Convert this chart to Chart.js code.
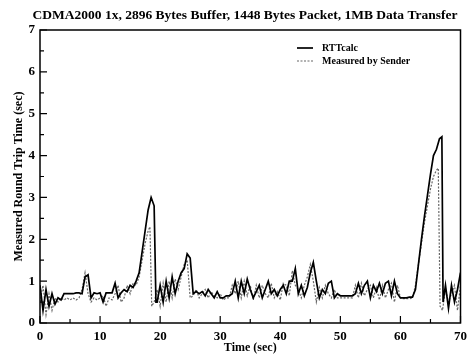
<!DOCTYPE html>
<html>
<head>
  <title>CDMA2000 RTT</title>
  <script src="https://cdn.jsdelivr.net/npm/chart.js"></script>
  <style>
    html, body { margin: 0; padding: 0; background: #fff; }
    #wrap { width: 473px; height: 355px; }
  </style>
</head>
<body>
  <div id="wrap"><canvas id="rttChart" width="473" height="355"></canvas></div>

  <script>
    // Data (time in sec, RTT in sec)
    const rttTime = [0, 0.5, 1, 1.5, 2, 2.5, 3, 3.5, 4, 4.5, 5, 5.5, 6, 6.5, 7, 7.5, 8, 8.5, 9, 9.5,
      10, 10.5, 11, 11.5, 12, 12.5, 13, 13.5, 14, 14.5, 15, 15.5, 16, 16.5, 17, 17.5, 18, 18.5, 19, 19.3,
      19.5, 20, 20.5, 21, 21.5, 22, 22.5, 23, 23.5, 24, 24.5, 25, 25.5, 26, 26.5, 27, 27.5, 28, 28.5, 29,
      29.5, 30, 30.5, 31, 31.5, 32, 32.5, 33, 33.5, 34, 34.5, 35, 35.5, 36, 36.5, 37, 37.5, 38, 38.5, 39,
      39.5, 40, 40.5, 41, 41.5, 42, 42.5, 43, 43.5, 44, 44.5, 45, 45.5, 46, 46.5, 47, 47.5, 48, 48.5, 49,
      49.5, 50, 50.5, 51, 51.5, 52, 52.5, 53, 53.5, 54, 54.5, 55, 55.5, 56, 56.5, 57, 57.5, 58, 58.5, 59,
      59.5, 60, 60.5, 61, 61.5, 62, 62.5, 63, 63.5, 64, 64.5, 65, 65.5, 66, 66.5, 66.9, 67.1, 67.5, 68, 68.5,
      69, 69.5, 70];
    const rttValue = [0.9, 0.3, 0.8, 0.4, 0.7, 0.45, 0.6, 0.55, 0.7, 0.7, 0.7, 0.7, 0.72, 0.72, 0.7, 1.1, 1.15, 0.6, 0.72, 0.7,
      0.72, 0.5, 0.72, 0.72, 0.72, 0.95, 0.6, 0.72, 0.8, 0.75, 0.9, 0.85, 1.0, 1.2, 1.7, 2.2, 2.7, 3.0, 2.8, 0.5,
      0.5, 0.9, 0.5, 1.0, 0.6, 1.1, 0.7, 1.0, 1.2, 1.3, 1.65, 1.55, 0.7, 0.75, 0.7, 0.75, 0.65, 0.8, 0.7, 0.6,
      0.75, 0.6, 0.6, 0.65, 0.65, 0.7, 1.0, 0.6, 1.0, 0.7, 1.05, 0.8, 0.6, 0.75, 0.9, 0.6, 0.8, 1.0, 0.7, 0.8,
      0.65, 0.8, 0.9, 0.7, 1.0, 1.0, 1.3, 0.7, 0.9, 0.65, 0.85, 1.2, 1.45, 1.0, 0.6, 0.8, 0.7, 0.95, 1.0, 0.6,
      0.7, 0.65, 0.65, 0.65, 0.65, 0.65, 0.7, 0.95, 0.7, 0.9, 1.0, 0.6, 0.9, 0.75, 0.95, 0.7, 0.95, 1.0, 0.65, 1.0,
      0.7, 0.6, 0.6, 0.6, 0.62, 0.62, 0.8, 1.4, 2.0, 2.55, 3.05, 3.55, 4.0, 4.15, 4.4, 4.45, 0.5, 0.9, 0.35, 0.9,
      0.5, 0.8, 1.2];

    const sndTime = [0, 0.5, 1, 1.5, 2, 2.5, 3, 3.5, 4, 4.5, 5, 5.5, 6, 6.5, 7, 7.5, 8, 8.5, 9, 9.5,
      10, 10.5, 11, 11.5, 12, 12.5, 13, 13.5, 14, 14.5, 15, 15.5, 16, 16.5, 17, 17.5, 18, 18.3, 18.6, 19,
      19.5, 20, 20.5, 21, 21.5, 22, 22.5, 23, 23.5, 24, 24.5, 25, 25.5, 26, 26.5, 27, 27.5, 28, 28.5, 29,
      29.5, 30, 30.5, 31, 31.5, 32, 32.5, 33, 33.5, 34, 34.5, 35, 35.5, 36, 36.5, 37, 37.5, 38, 38.5, 39,
      39.5, 40, 40.5, 41, 41.5, 42, 42.5, 43, 43.5, 44, 44.5, 45, 45.5, 46, 46.5, 47, 47.5, 48, 48.5, 49,
      49.5, 50, 50.5, 51, 51.5, 52, 52.5, 53, 53.5, 54, 54.5, 55, 55.5, 56, 56.5, 57, 57.5, 58, 58.5, 59,
      59.5, 60, 60.5, 61, 61.5, 62, 62.5, 63, 63.5, 64, 64.5, 65, 65.5, 66, 66.3, 66.6, 67, 67.5, 68, 68.5,
      69, 69.5, 70];
    const sndValue = [0.5, 0.9, 0.2, 0.7, 0.3, 0.6, 0.5, 0.6, 0.55, 0.6, 0.55, 0.6, 0.55, 0.6, 0.8, 1.2, 0.7, 0.5, 0.6, 0.55,
      0.6, 0.65, 0.4, 0.6, 0.55, 0.7, 0.9, 0.5, 0.6, 0.9, 0.7, 0.95, 0.9, 1.1, 1.5, 1.9, 2.2, 2.3, 0.4, 0.5,
      0.8, 0.4, 0.95, 0.5, 1.0, 0.6, 1.05, 0.8, 1.1, 1.4, 1.5, 0.6, 0.65, 0.8, 0.6, 0.7, 0.8, 0.6, 0.75, 0.65,
      0.6, 0.7, 0.55, 0.6, 0.6, 0.9, 0.7, 1.0, 0.6, 1.0, 0.65, 0.9, 0.55, 0.9, 0.6, 0.9, 0.7, 0.6, 0.95, 0.6,
      0.75, 0.55, 0.95, 0.9, 0.65, 1.25, 0.9, 0.8, 0.6, 0.9, 1.1, 1.4, 1.0, 0.5, 0.85, 0.6, 0.9, 0.7, 0.6, 0.8,
      0.6, 0.6, 0.6, 0.6, 0.6, 0.6, 0.9, 0.6, 0.95, 0.65, 0.8, 0.9, 0.6, 0.85, 0.55, 0.9, 0.6, 0.8, 0.95, 0.5,
      0.9, 0.6, 0.58, 0.58, 0.58, 0.6, 0.9, 1.4, 1.9, 2.4, 2.8, 3.2, 3.5, 3.65, 3.7, 0.4, 0.3, 0.8, 0.5, 0.7,
      0.9, 0.3, 0.9];

    const xTicks = [0, 10, 20, 30, 40, 50, 60, 70];
    const yTicks = [0, 1, 2, 3, 4, 5, 6, 7];
    const chartTitle = 'CDMA2000 1x, 2896 Bytes Buffer, 1448 Bytes Packet, 1MB Data Transfer';

    const serif = "'Liberation Serif', 'Times New Roman', serif";

    // title, frame, inward ticks and legend drawn on top of the chart
    const framePlugin = {
      id: 'frame',
      afterDraw(chart) {
        const ctx = chart.ctx;
        const a = chart.chartArea;
        const xs = chart.scales.x, ys = chart.scales.y;
        ctx.save();

        ctx.fillStyle = '#000';
        ctx.font = 'bold 13.5px ' + serif;
        ctx.textAlign = 'center';
        ctx.textBaseline = 'middle';
        ctx.fillText(chartTitle, 245, 16);

        ctx.strokeStyle = '#000';
        ctx.lineWidth = 1.5;
        ctx.strokeRect(a.left, a.top, a.right - a.left, a.bottom - a.top);
        ctx.lineWidth = 1.2;
        ctx.beginPath();
        for (let v = 0; v <= 70; v += 5) {
          const px = xs.getPixelForValue(v);
          const len = v % 10 === 0 ? 7 : 4;
          ctx.moveTo(px, a.bottom);
          ctx.lineTo(px, a.bottom - len);
        }
        for (let v = 0; v <= 7; v += 0.5) {
          const py = ys.getPixelForValue(v);
          const len = v % 1 === 0 ? 7 : 4;
          ctx.moveTo(a.left, py);
          ctx.lineTo(a.left + len, py);
        }
        ctx.stroke();

        // legend
        const lx = 297, ly = [48, 61];
        ctx.font = 'bold 10px ' + serif;
        ctx.textAlign = 'left';
        chart.data.datasets.forEach((ds, i) => {
          ctx.strokeStyle = ds.borderColor;
          ctx.lineWidth = ds.borderWidth;
          ctx.setLineDash(ds.borderDash || []);
          ctx.beginPath();
          ctx.moveTo(lx, ly[i]);
          ctx.lineTo(lx + 16, ly[i]);
          ctx.stroke();
          ctx.setLineDash([]);
          ctx.fillText(ds.label, lx + 25, ly[i]);
        });
        ctx.restore();
      }
    };

    new Chart(document.getElementById('rttChart'), {
      type: 'line',
      data: {
        datasets: [{
          label: 'RTTcalc',
          data: rttTime.map((t, i) => ({ x: t, y: rttValue[i] })),
          borderColor: '#000',
          borderWidth: 1.7,
          pointRadius: 0,
          tension: 0
        }, {
          label: 'Measured by Sender',
          data: sndTime.map((t, i) => ({ x: t, y: sndValue[i] })),
          borderColor: '#666',
          borderWidth: 1.2,
          borderDash: [2, 1.5],
          pointRadius: 0,
          tension: 0
        }]
      },
      options: {
        responsive: false,
        animation: false,
        layout: { padding: { left: 0, right: 12, top: 30, bottom: 0 } },
        plugins: {
          legend: { display: false },
          tooltip: { enabled: false },
          title: { display: false }
        },
        scales: {
          x: {
            type: 'linear',
            min: 0, max: 70,
            afterBuildTicks: s => { s.ticks = xTicks.map(v => ({ value: v })); },
            afterFit: s => { s.height = 32; },
            grid: { display: false, drawTicks: false },
            border: { display: false },
            ticks: { color: '#000', padding: 6, maxRotation: 0, font: { family: serif, size: 13, weight: 'bold' } },
            title: {
              display: true, text: 'Time (sec)', color: '#000',
              font: { family: serif, size: 12, weight: 'bold' },
              padding: { top: 0, bottom: 0 }
            }
          },
          y: {
            min: 0, max: 7,
            afterBuildTicks: s => { s.ticks = yTicks.map(v => ({ value: v })); },
            afterFit: s => { s.width = 40; },
            grid: { display: false, drawTicks: false },
            border: { display: false },
            ticks: { color: '#000', padding: 5, font: { family: serif, size: 13, weight: 'bold' } },
            title: {
              display: true, text: 'Measured Round Trip Time (sec)', color: '#000',
              font: { family: serif, size: 12, weight: 'bold' },
              padding: { top: 12, bottom: 0 }
            }
          }
        }
      },
      plugins: [framePlugin]
    });
  </script>
</body>
</html>
